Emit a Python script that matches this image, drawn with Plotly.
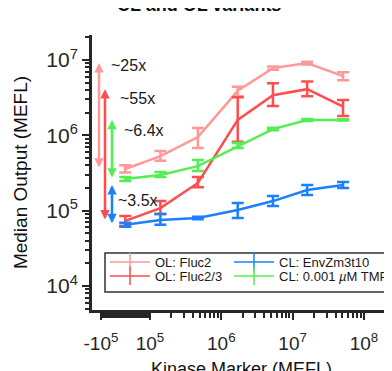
import numpy as np
import plotly.graph_objects as go

# ---------------- data ----------------
kinase = [4.5e4, 1.4e5, 4.7e5, 1.7e6, 5.3e6, 1.6e7, 5.1e7]

ol_fluc2 = [3.57e5, 5.3e5, 9.5e5, 3.9e6, 7.8e6, 9.1e6, 6.1e6]
ol_fluc2_hi = [4.0e5, 6.2e5, 1.25e6, 4.4e6, 8.2e6, 9.5e6, 6.9e6]
ol_fluc2_lo = [3.2e5, 4.6e5, 6.8e5, 3.3e6, 7.4e6, 8.7e6, 5.4e6]

ol_fluc23 = [7.3e4, 1.08e5, 2.33e5, 1.6e6, 3.4e6, 4.1e6, 2.4e6]
ol_fluc23_hi = [8.5e4, 1.34e5, 2.8e5, 3.2e6, 4.9e6, 5.2e6, 2.95e6]
ol_fluc23_lo = [6.3e4, 9.0e4, 2.05e5, 8.2e5, 2.45e6, 3.3e6, 1.8e6]

cl_env = [6.5e4, 7.5e4, 8.0e4, 1.02e5, 1.34e5, 1.88e5, 2.19e5]
cl_env_hi = [6.9e4, 9.0e4, 8.3e4, 1.26e5, 1.57e5, 2.19e5, 2.4e5]
cl_env_lo = [6.1e4, 6.5e4, 7.7e4, 8.0e4, 1.15e5, 1.61e5, 2.0e5]

cl_tmp = [2.63e5, 2.97e5, 3.9e5, 7.2e5, 1.21e6, 1.6e6, 1.6e6]
cl_tmp_hi = [2.8e5, 3.25e5, 4.7e5, 7.9e5, 1.26e6, 1.65e6, 1.63e6]
cl_tmp_lo = [2.47e5, 2.8e5, 3.35e5, 6.8e5, 1.17e6, 1.55e6, 1.57e6]

series_names = ["OL: Fluc2", "OL: Fluc2/3", "CL: EnvZm3t10", "CL: 0.001 <i>µ</i>M TMP"]
fold_labels = ["~25x", "~55x", "~3.5x", "~6.4x"]

x_tick_vals = [10 ** 4.313, 1e5, 1e6, 1e7, 1e8]
x_tick_text = ["-10<sup>5</sup>", "10<sup>5</sup>", "10<sup>6</sup>", "10<sup>7</sup>", "10<sup>8</sup>"]
y_tick_vals = [1e4, 1e5, 1e6, 1e7]
y_tick_text = ["10<sup>4</sup>", "10<sup>5</sup>", "10<sup>6</sup>", "10<sup>7</sup>"]

# ---------------- style ----------------
W, H = 392, 371
L, R, T, B = 84, 382, 27, 302
colors = ["#FF9999", "#FF4D4D", "#1A80FF", "#52EE52"]
font = "Liberation Sans, Arial, sans-serif"
axcol = "#262626"

series = [
    (ol_fluc2, ol_fluc2_hi, ol_fluc2_lo),
    (ol_fluc23, ol_fluc23_hi, ol_fluc23_lo),
    (cl_env, cl_env_hi, cl_env_lo),
    (cl_tmp, cl_tmp_hi, cl_tmp_lo),
]

fig = go.Figure()
for (mid, hi, lo), c, name in zip(series, colors, series_names):
    mid = np.array(mid); hi = np.array(hi); lo = np.array(lo)
    fig.add_trace(go.Scatter(
        x=kinase, y=mid, mode="lines", name=name, showlegend=False,
        line=dict(color=c, width=2.5),
        error_y=dict(type="data", symmetric=False, array=hi - mid, arrayminus=mid - lo,
                     color=c, thickness=2.5, width=6),
    ))

# legend entries: one small legend per cell (2 x 2 layout)
legend_ids = ["legend", "legend3", "legend2", "legend4"]
for idx in range(4):
    fig.add_trace(go.Scatter(
        x=[None], y=[None], mode="lines+markers", name=series_names[idx],
        line=dict(color=colors[idx], width=1.5),
        marker=dict(symbol="line-ns-open", size=13, line=dict(color=colors[idx], width=1.5)),
        legend=legend_ids[idx],
    ))

def px2paper_x(px):
    return (px - L) / (R - L)

def px2paper_y(py):
    return (B - py) / (B - T)

# fold-change arrows
arrow_px = [91, 97, 104, 104]
label_pos = [(101, 57), (110, 90), (108, 192), (114, 122)]
for i in range(4):
    mid = series[i][0]
    fig.add_annotation(
        xref="paper", yref="y", x=px2paper_x(arrow_px[i]), y=np.log10(max(mid)),
        axref="pixel", ayref="y", ax=0, ay=np.log10(min(mid)),
        showarrow=True, arrowside="end+start", arrowhead=2, arrowsize=0.75,
        arrowwidth=2.5, arrowcolor=colors[i], text="",
    )
    lx, ly = label_pos[i]
    fig.add_annotation(
        xref="paper", yref="paper", x=px2paper_x(lx), y=px2paper_y(ly),
        xanchor="left", yanchor="middle", showarrow=False, text=fold_labels[i],
        font=dict(size=16, color="#1a1a1a", family=font),
    )

# title (partly cut at the top edge, as in the reference)
fig.add_annotation(
    xref="paper", yref="paper", x=px2paper_x(191), y=px2paper_y(-3),
    xanchor="center", yanchor="middle", showarrow=False,
    text="<b>CL and OL variants</b>", font=dict(size=18, color="#111111", family=font),
)

# x-axis title placed as text at a fixed pixel row
fig.add_annotation(
    xref="paper", yref="paper", x=0.5, y=px2paper_y(361),
    xanchor="center", yanchor="middle", showarrow=False,
    text="Kinase Marker (MEFL)", font=dict(size=18, color="#111111", family=font),
)

# legend frame
fig.add_shape(type="rect", xref="paper", yref="paper",
              x0=px2paper_x(97), x1=px2paper_x(400), y0=px2paper_y(284), y1=px2paper_y(245),
              line=dict(color="#333333", width=1.5), fillcolor="rgba(0,0,0,0)")

y_minor = [k * 10.0 ** n for n in range(3, 8) for k in range(2, 10)]
x_minor = list(10 ** np.arange(4.33, 5.0, 0.022)) + [k * 10.0 ** n for n in range(5, 9) for k in range(2, 10)]

def leg(xpx, ypx):
    return dict(orientation="v", xanchor="left", yanchor="top", itemwidth=40,
                x=px2paper_x(xpx), y=px2paper_y(ypx),
                bgcolor="rgba(255,255,255,0)", borderwidth=0, tracegroupgap=0,
                font=dict(size=13, color="#1a1a1a", family=font))

fig.update_layout(
    width=W, height=H,
    margin=dict(l=L, r=W - R, t=T, b=H - B, autoexpand=False),
    paper_bgcolor="white", plot_bgcolor="white",
    font=dict(family=font, color=axcol),
    showlegend=True,
    legend=leg(97, 239), legend2=leg(221, 239),
    legend3=leg(97, 253), legend4=leg(221, 253),
    xaxis=dict(type="log", range=[4.187, 8.366], showgrid=False, zeroline=False,
               automargin=False,
               showline=True, linecolor=axcol, linewidth=3,
               ticks="outside", ticklen=7, tickwidth=2, tickcolor=axcol,
               tickmode="array", tickvals=x_tick_vals, ticktext=x_tick_text,
               tickfont=dict(size=19, color=axcol), ticklabelstandoff=7,
               minor=dict(ticks="outside", ticklen=5, tickwidth=2, tickcolor=axcol,
                          tickmode="array", tickvals=x_minor, showgrid=False)),
    yaxis=dict(type="log", range=[3.681, 7.332], showgrid=False, zeroline=False,
               automargin=False,
               showline=True, linecolor=axcol, linewidth=3,
               ticks="outside", ticklen=7, tickwidth=2, tickcolor=axcol,
               tickmode="array", tickvals=y_tick_vals, ticktext=y_tick_text,
               tickfont=dict(size=21, color=axcol),
               minor=dict(ticks="outside", ticklen=4, tickwidth=2, tickcolor=axcol,
                          tickmode="array", tickvals=y_minor, showgrid=False),
               title=dict(text="Median Output (MEFL)", font=dict(size=19, color="#111111"), standoff=14)),
)

fig.write_html("out.html")
